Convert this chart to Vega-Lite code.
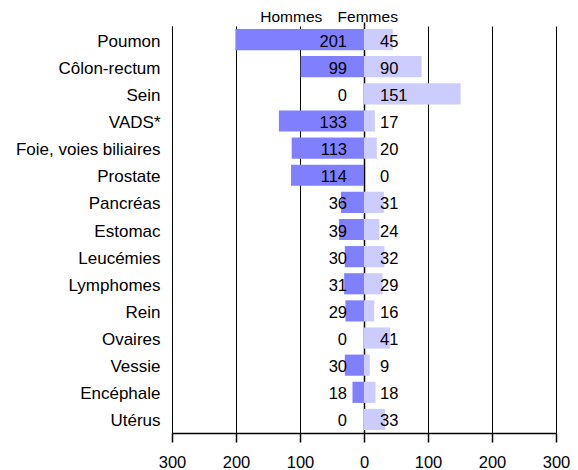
{
  "$schema": "https://vega.github.io/schema/vega-lite/v6.json",
  "width": 384,
  "height": 407,
  "autosize": {"type": "none"},
  "padding": {"left": 172, "top": 26, "right": 22, "bottom": 37},
  "background": "white",
  "config": {
    "font": "Liberation Sans",
    "view": {"stroke": null},
    "axis": {"labelFont": "Liberation Sans", "labelColor": "black"}
  },
  "data": {
    "values": [
      {"cancer": "Poumon", "hommes": 201, "femmes": 45},
      {"cancer": "Côlon-rectum", "hommes": 99, "femmes": 90},
      {"cancer": "Sein", "hommes": 0, "femmes": 151},
      {"cancer": "VADS*", "hommes": 133, "femmes": 17},
      {"cancer": "Foie, voies biliaires", "hommes": 113, "femmes": 20},
      {"cancer": "Prostate", "hommes": 114, "femmes": 0},
      {"cancer": "Pancréas", "hommes": 36, "femmes": 31},
      {"cancer": "Estomac", "hommes": 39, "femmes": 24},
      {"cancer": "Leucémies", "hommes": 30, "femmes": 32},
      {"cancer": "Lymphomes", "hommes": 31, "femmes": 29},
      {"cancer": "Rein", "hommes": 29, "femmes": 16},
      {"cancer": "Ovaires", "hommes": 0, "femmes": 41},
      {"cancer": "Vessie", "hommes": 30, "femmes": 9},
      {"cancer": "Encéphale", "hommes": 18, "femmes": 18},
      {"cancer": "Utérus", "hommes": 0, "femmes": 33}
    ]
  },
  "transform": [{"calculate": "-datum.hommes", "as": "hommes_neg"}],
  "encoding": {
    "y": {
      "field": "cancer",
      "type": "nominal",
      "sort": null,
      "scale": {"paddingInner": 0.22, "paddingOuter": 0.11},
      "axis": {
        "title": null,
        "ticks": false,
        "domainColor": "black",
        "domainWidth": 1,
        "labelFontSize": 17,
        "labelPadding": 12,
        "labelOffset": 2,
        "labelColor": "black"
      }
    }
  },
  "layer": [
    {
      "mark": {"type": "bar", "color": "#8080FF"},
      "encoding": {
        "x": {
          "field": "hommes_neg",
          "type": "quantitative",
          "scale": {"domain": [-300, 300], "nice": false},
          "axis": {
            "title": null,
            "orient": "bottom",
            "values": [-300, -200, -100, 0, 100, 200, 300],
            "labelExpr": "abs(datum.value)",
            "labelFontSize": 16.5,
            "labelPadding": 12,
            "labelFlush": false,
            "labelOverlap": false,
            "domainColor": "black",
            "domainWidth": 1.5,
            "tickColor": "black",
            "tickSize": 9,
            "tickWidth": 1.5,
            "grid": true,
            "gridColor": "black",
            "gridWidth": {"expr": "datum.value === 0 ? 1.5 : 1"}
          }
        }
      }
    },
    {
      "mark": {"type": "bar", "color": "#CCCCFF"},
      "encoding": {
        "x": {
          "field": "femmes",
          "type": "quantitative",
          "axis": {
            "title": null,
            "orient": "top",
            "values": [-66, -42, 0],
            "labelExpr": "datum.value < -50 ? 'Hommes' : (datum.value < 0 ? 'Femmes' : '')",
            "labelAlign": {"expr": "datum.value < -50 ? 'right' : 'left'"},
            "labelBaseline": "alphabetic",
            "labelFontSize": 15.5,
            "labelPadding": 1,
            "labelFlush": false,
            "labelOverlap": false,
            "domain": false,
            "grid": false,
            "ticks": true,
            "tickSize": 4,
            "tickColor": "black",
            "tickWidth": 1.5,
            "tickOpacity": {"expr": "datum.value === 0 ? 1 : 0"}
          }
        }
      }
    },
    {
      "mark": {"type": "text", "align": "right", "baseline": "middle", "dx": -17, "dy": 2, "fontSize": 16.5, "color": "black"},
      "encoding": {
        "x": {"datum": 0, "type": "quantitative", "axis": null},
        "text": {"field": "hommes", "type": "quantitative"}
      }
    },
    {
      "mark": {"type": "text", "align": "left", "baseline": "middle", "dx": 16, "dy": 2, "fontSize": 16.5, "color": "black"},
      "encoding": {
        "x": {"datum": 0, "type": "quantitative", "axis": null},
        "text": {"field": "femmes", "type": "quantitative"}
      }
    }
  ]
}
